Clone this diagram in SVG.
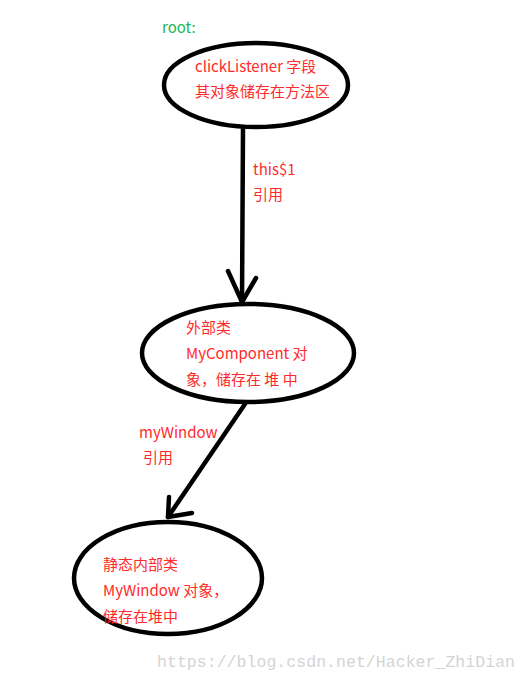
<svg xmlns="http://www.w3.org/2000/svg" width="527" height="681" viewBox="0 0 527 681">
<style>
.node{fill:none;stroke:#000;stroke-width:4.5}
.t{font-family:"Noto Sans CJK SC","Liberation Sans",sans-serif;font-size:15px;fill:#ff2a2a}
.g{font-family:"Noto Sans CJK SC","Liberation Sans",sans-serif;font-size:15px;fill:#22b455}
.edge{fill:none;stroke:#000;stroke-width:4.5;stroke-linecap:round;stroke-linejoin:round}
.wm{font-family:"Liberation Mono",monospace;font-size:16.5px;fill:#d4d4d4}
</style>
<rect width="527" height="681" fill="#fff"/>
<text class="g" x="162" y="33">root:</text>
<g id="connectors">
<path class="edge" d="M243 128 L242 302"/>
<path class="edge" d="M228 271 L242 302 L256 278"/>
<path class="edge" d="M245 404 L168 517"/>
<path class="edge" d="M169 497 L168 517 L192 513"/>
<text class="t" x="253" y="175">this$1</text>
<text class="t" x="253" y="200">引用</text>
<text class="t" x="139" y="438">myWindow</text>
<text class="t" x="143" y="463">引用</text>
</g>
<g id="node-root">
<ellipse class="node" cx="256" cy="85" rx="92" ry="42"/>
<text class="t" x="195" y="72">clickListener 字段</text>
<text class="t" x="195" y="97">其对象储存在方法区</text>
</g>
<g id="node-outer">
<ellipse class="node" cx="248" cy="353" rx="106" ry="49"/>
<text class="t" x="186" y="333">外部类</text>
<text class="t" x="186" y="359">MyComponent 对</text>
<text class="t" x="186" y="385">象，储存在 堆 中</text>
</g>
<g id="node-inner">
<ellipse class="node" cx="168" cy="578" rx="94" ry="56"/>
<text class="t" x="103" y="570">静态内部类</text>
<text class="t" x="103" y="596">MyWindow 对象，</text>
<text class="t" x="103" y="622">储存在堆中</text>
</g>
<text class="wm" x="157" y="667" textLength="358">https://blog.csdn.net/Hacker_ZhiDian</text>
</svg>
